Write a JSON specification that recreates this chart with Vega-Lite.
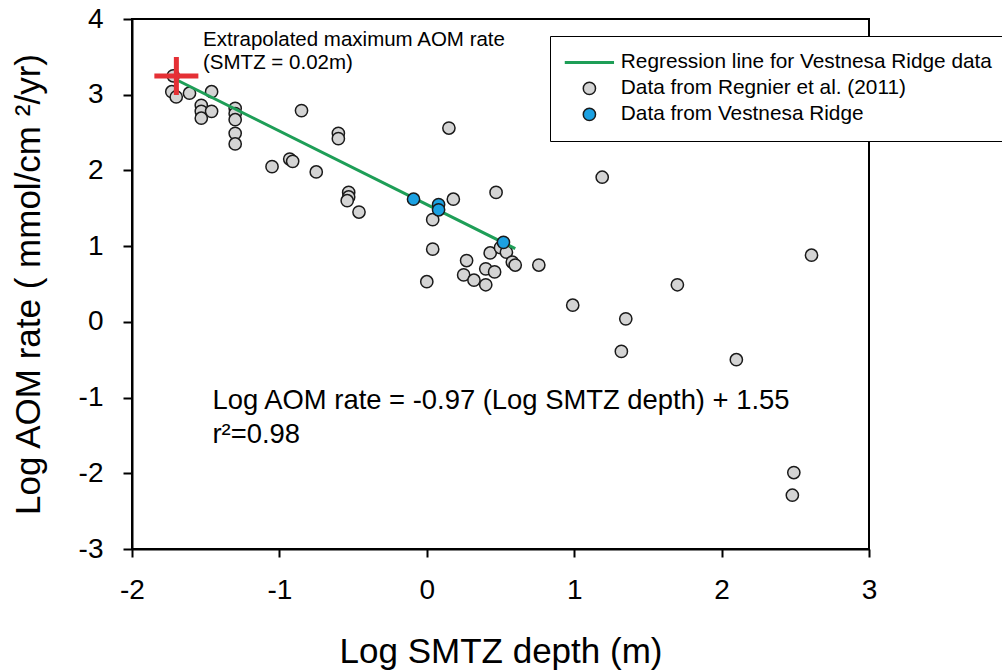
{
  "$schema": "https://vega.github.io/schema/vega-lite/v6.json",
  "width": 737,
  "height": 530,
  "autosize": {"type": "none"},
  "padding": {"left": 132, "top": 19, "right": 133, "bottom": 123},
  "background": "white",
  "config": {
    "font": "Liberation Sans",
    "view": {"stroke": "black", "strokeWidth": 2},
    "axis": {
      "grid": false,
      "domainColor": "black",
      "domainWidth": 2,
      "tickColor": "black",
      "tickWidth": 2,
      "labelColor": "black",
      "titleColor": "black",
      "labelFont": "Liberation Sans",
      "titleFont": "Liberation Sans",
      "titleFontWeight": "normal",
      "labelFontSize": 28,
      "titleFontSize": 35
    }
  },
  "datasets": {
    "points": [
      {"x": -1.72, "y": 3.25, "source": "Data from Regnier et al. (2011)"},
      {"x": -1.73, "y": 3.04, "source": "Data from Regnier et al. (2011)"},
      {"x": -1.70, "y": 2.97, "source": "Data from Regnier et al. (2011)"},
      {"x": -1.61, "y": 3.02, "source": "Data from Regnier et al. (2011)"},
      {"x": -1.46, "y": 3.04, "source": "Data from Regnier et al. (2011)"},
      {"x": -1.53, "y": 2.86, "source": "Data from Regnier et al. (2011)"},
      {"x": -1.53, "y": 2.78, "source": "Data from Regnier et al. (2011)"},
      {"x": -1.53, "y": 2.69, "source": "Data from Regnier et al. (2011)"},
      {"x": -1.46, "y": 2.78, "source": "Data from Regnier et al. (2011)"},
      {"x": -1.30, "y": 2.82, "source": "Data from Regnier et al. (2011)"},
      {"x": -1.30, "y": 2.75, "source": "Data from Regnier et al. (2011)"},
      {"x": -1.30, "y": 2.67, "source": "Data from Regnier et al. (2011)"},
      {"x": -1.30, "y": 2.49, "source": "Data from Regnier et al. (2011)"},
      {"x": -1.30, "y": 2.35, "source": "Data from Regnier et al. (2011)"},
      {"x": -0.85, "y": 2.79, "source": "Data from Regnier et al. (2011)"},
      {"x": -1.05, "y": 2.05, "source": "Data from Regnier et al. (2011)"},
      {"x": -0.93, "y": 2.15, "source": "Data from Regnier et al. (2011)"},
      {"x": -0.91, "y": 2.12, "source": "Data from Regnier et al. (2011)"},
      {"x": -0.75, "y": 1.98, "source": "Data from Regnier et al. (2011)"},
      {"x": -0.60, "y": 2.49, "source": "Data from Regnier et al. (2011)"},
      {"x": -0.60, "y": 2.42, "source": "Data from Regnier et al. (2011)"},
      {"x": -0.53, "y": 1.71, "source": "Data from Regnier et al. (2011)"},
      {"x": -0.53, "y": 1.65, "source": "Data from Regnier et al. (2011)"},
      {"x": -0.54, "y": 1.60, "source": "Data from Regnier et al. (2011)"},
      {"x": -0.46, "y": 1.45, "source": "Data from Regnier et al. (2011)"},
      {"x": 0.15, "y": 2.56, "source": "Data from Regnier et al. (2011)"},
      {"x": 0.18, "y": 1.62, "source": "Data from Regnier et al. (2011)"},
      {"x": 0.04, "y": 1.35, "source": "Data from Regnier et al. (2011)"},
      {"x": 0.47, "y": 1.71, "source": "Data from Regnier et al. (2011)"},
      {"x": 0.04, "y": 0.96, "source": "Data from Regnier et al. (2011)"},
      {"x": 0.00, "y": 0.53, "source": "Data from Regnier et al. (2011)"},
      {"x": 0.43, "y": 0.91, "source": "Data from Regnier et al. (2011)"},
      {"x": 0.50, "y": 0.98, "source": "Data from Regnier et al. (2011)"},
      {"x": 0.54, "y": 0.92, "source": "Data from Regnier et al. (2011)"},
      {"x": 0.27, "y": 0.81, "source": "Data from Regnier et al. (2011)"},
      {"x": 0.25, "y": 0.62, "source": "Data from Regnier et al. (2011)"},
      {"x": 0.32, "y": 0.55, "source": "Data from Regnier et al. (2011)"},
      {"x": 0.40, "y": 0.70, "source": "Data from Regnier et al. (2011)"},
      {"x": 0.46, "y": 0.66, "source": "Data from Regnier et al. (2011)"},
      {"x": 0.40, "y": 0.49, "source": "Data from Regnier et al. (2011)"},
      {"x": 0.58, "y": 0.79, "source": "Data from Regnier et al. (2011)"},
      {"x": 0.60, "y": 0.75, "source": "Data from Regnier et al. (2011)"},
      {"x": 0.76, "y": 0.75, "source": "Data from Regnier et al. (2011)"},
      {"x": 0.99, "y": 0.22, "source": "Data from Regnier et al. (2011)"},
      {"x": 1.19, "y": 1.91, "source": "Data from Regnier et al. (2011)"},
      {"x": 2.61, "y": 0.88, "source": "Data from Regnier et al. (2011)"},
      {"x": 1.70, "y": 0.49, "source": "Data from Regnier et al. (2011)"},
      {"x": 1.35, "y": 0.04, "source": "Data from Regnier et al. (2011)"},
      {"x": 1.32, "y": -0.39, "source": "Data from Regnier et al. (2011)"},
      {"x": 2.10, "y": -0.50, "source": "Data from Regnier et al. (2011)"},
      {"x": 2.49, "y": -1.99, "source": "Data from Regnier et al. (2011)"},
      {"x": 2.48, "y": -2.29, "source": "Data from Regnier et al. (2011)"},
      {"x": -0.09, "y": 1.62, "source": "Data from Vestnesa Ridge"},
      {"x": 0.08, "y": 1.55, "source": "Data from Vestnesa Ridge"},
      {"x": 0.08, "y": 1.48, "source": "Data from Vestnesa Ridge"},
      {"x": 0.52, "y": 1.05, "source": "Data from Vestnesa Ridge"}
    ],
    "regression": [
      {"x": -1.699, "y": 3.198},
      {"x": 0.6, "y": 0.968}
    ],
    "maxrate": [
      {"x": -1.699, "y": 3.247}
    ]
  },
  "layer": [
    {
      "data": {"name": "points"},
      "transform": [{"filter": "datum.source == 'Data from Regnier et al. (2011)'"}],
      "mark": {"type": "point", "filled": true, "strokeWidth": 1.5, "size": 150, "opacity": 1},
      "encoding": {
        "x": {"field": "x", "type": "quantitative", "scale": {"domain": [-2, 3], "nice": false, "zero": false},
              "axis": {"values": [-2, -1, 0, 1, 2, 3], "labelExpr": "toString(datum.value)", "labelFontSize": 28, "title": "Log SMTZ depth (m)", "tickSize": 8, "labelPadding": 19, "titlePadding": 30, "labelFlush": false}},
        "y": {"field": "y", "type": "quantitative", "scale": {"domain": [-3, 4], "nice": false, "zero": false},
              "axis": {"values": [-3, -2, -1, 0, 1, 2, 3, 4], "labelExpr": "toString(datum.value)", "labelFontSize": 28, "title": "Log AOM rate ( mmol/cm ²/yr)", "tickSize": 9, "labelPadding": 20, "titlePadding": 32, "labelFlush": false}},
        "color": {
          "field": "source",
          "type": "nominal",
          "scale": {
            "domain": ["Regression line for Vestnesa Ridge data", "Data from Regnier et al. (2011)", "Data from Vestnesa Ridge"],
            "range": ["#1e9e57", "#d4d4d4", "#1ba1e2"]
          },
          "legend": {
            "orient": "none", "legendX": 418, "legendY": 17, "title": null, "padding": 16,
            "strokeColor": "black", "fillColor": "white",
            "labelFont": "Liberation Sans", "labelFontSize": 20.8, "labelColor": "black",
            "labelOffset": 21, "labelLimit": 1000, "symbolSize": 150, "symbolOffset": 13,
            "symbolStrokeWidth": 1.5, "rowPadding": 4,
            "encode": {"legend": {"strokeWidth": {"value": 1.5}}}
          }
        },
        "shape": {
          "field": "source",
          "type": "nominal",
          "scale": {
            "domain": ["Regression line for Vestnesa Ridge data", "Data from Regnier et al. (2011)", "Data from Vestnesa Ridge"],
            "range": ["M-3.9,-0.12H3.9V0.12H-3.9Z", "circle", "circle"]
          },
          "legend": {
            "orient": "none", "legendX": 418, "legendY": 17, "title": null, "padding": 16,
            "strokeColor": "black", "fillColor": "white",
            "labelFont": "Liberation Sans", "labelFontSize": 20.8, "labelColor": "black",
            "labelOffset": 21, "labelLimit": 1000, "symbolSize": 150, "symbolOffset": 13,
            "symbolStrokeWidth": 1.5, "rowPadding": 4,
            "encode": {"legend": {"strokeWidth": {"value": 1.5}}}
          }
        },
        "stroke": {
          "field": "source",
          "type": "nominal",
          "scale": {
            "domain": ["Regression line for Vestnesa Ridge data", "Data from Regnier et al. (2011)", "Data from Vestnesa Ridge"],
            "range": ["#1e9e57", "#1a1a1a", "#1a1a1a"]
          },
          "legend": {
            "orient": "none", "legendX": 418, "legendY": 17, "title": null, "padding": 16,
            "strokeColor": "black", "fillColor": "white",
            "labelFont": "Liberation Sans", "labelFontSize": 20.8, "labelColor": "black",
            "labelOffset": 21, "labelLimit": 1000, "symbolSize": 150, "symbolOffset": 13,
            "symbolStrokeWidth": 1.5, "rowPadding": 4,
            "encode": {"legend": {"strokeWidth": {"value": 1.5}}}
          }
        }
      }
    },
    {
      "data": {"name": "regression"},
      "mark": {"type": "line", "strokeWidth": 3, "color": "#1e9e57"},
      "encoding": {
        "x": {"field": "x", "type": "quantitative"},
        "y": {"field": "y", "type": "quantitative"}
      }
    },
    {
      "data": {"name": "points"},
      "transform": [{"filter": "datum.source == 'Data from Vestnesa Ridge'"}],
      "mark": {"type": "point", "filled": true, "strokeWidth": 1.5, "size": 150, "opacity": 1},
      "encoding": {
        "x": {"field": "x", "type": "quantitative"},
        "y": {"field": "y", "type": "quantitative"},
        "color": {"field": "source", "type": "nominal"},
        "shape": {"field": "source", "type": "nominal"},
        "stroke": {"field": "source", "type": "nominal"}
      }
    },
    {
      "data": {"name": "maxrate"},
      "mark": {"type": "point", "shape": "M-1,0H1M0,-0.86V0.86", "size": 1936, "filled": false, "stroke": "#e53035", "strokeWidth": 5, "opacity": 1, "strokeCap": "butt"},
      "encoding": {
        "x": {"field": "x", "type": "quantitative"},
        "y": {"field": "y", "type": "quantitative"}
      }
    },
    {
      "data": {"values": [{}]},
      "mark": {"type": "text", "align": "left", "baseline": "middle", "fontSize": 20.5, "font": "Liberation Sans", "color": "black"},
      "encoding": {
        "x": {"datum": -1.518, "type": "quantitative"},
        "y": {"datum": 3.723, "type": "quantitative"},
        "text": {"value": "Extrapolated maximum AOM rate"}
      }
    },
    {
      "data": {"values": [{}]},
      "mark": {"type": "text", "align": "left", "baseline": "middle", "fontSize": 20.5, "font": "Liberation Sans", "color": "black"},
      "encoding": {
        "x": {"datum": -1.518, "type": "quantitative"},
        "y": {"datum": 3.419, "type": "quantitative"},
        "text": {"value": "(SMTZ = 0.02m)"}
      }
    },
    {
      "data": {"values": [{}]},
      "mark": {"type": "text", "align": "left", "baseline": "middle", "fontSize": 27.4, "font": "Liberation Sans", "color": "black"},
      "encoding": {
        "x": {"datum": -1.454, "type": "quantitative"},
        "y": {"datum": -1.042, "type": "quantitative"},
        "text": {"value": "Log AOM rate = -0.97 (Log SMTZ depth) + 1.55"}
      }
    },
    {
      "data": {"values": [{}]},
      "mark": {"type": "text", "align": "left", "baseline": "middle", "fontSize": 27.4, "font": "Liberation Sans", "color": "black"},
      "encoding": {
        "x": {"datum": -1.454, "type": "quantitative"},
        "y": {"datum": -1.495, "type": "quantitative"},
        "text": {"value": "r²=0.98"}
      }
    }
  ]
}
